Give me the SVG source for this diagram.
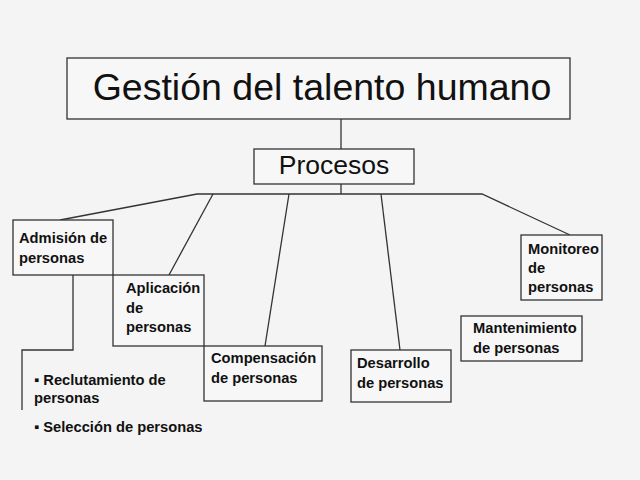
<svg xmlns="http://www.w3.org/2000/svg" width="640" height="480" viewBox="0 0 640 480">
<style>
.box{fill:#f7f7f7;stroke:#333;stroke-width:1.3}
.ln{fill:none;stroke:#333;stroke-width:1.3}
.t{font-family:"Liberation Sans",Arial,sans-serif;font-size:14.7px;font-weight:bold;fill:#111}
.big{font-family:"Liberation Sans",Arial,sans-serif;fill:#111}
</style>
<rect width="640" height="480" fill="#f4f4f4"/>
<g id="connectors">
<line class="ln" x1="341" y1="119" x2="341" y2="149"/>
<line class="ln" x1="341" y1="184" x2="341" y2="194"/>
<polyline class="ln" points="60,220 197,194 482,194 570,235"/>
<line class="ln" x1="213" y1="194" x2="169" y2="275"/>
<line class="ln" x1="289" y1="194" x2="265" y2="346"/>
<line class="ln" x1="381" y1="194" x2="400" y2="350"/>
<polyline class="ln" points="73,275 73,350 22,350 22,410"/>
</g>
<g id="title">
<rect class="box" x="67" y="58" width="503" height="61"/>
<text class="big" x="322" y="100" font-size="37.5" text-anchor="middle">Gestión del talento humano</text>
</g>
<g id="procesos">
<rect class="box" x="254" y="149" width="160" height="35"/>
<text class="big" x="334" y="174" font-size="26.5" text-anchor="middle">Procesos</text>
</g>
<g id="admision">
<rect class="box" x="13" y="220" width="100" height="55"/>
<text class="t" x="19" y="243">Admisión de</text>
<text class="t" x="19" y="263">personas</text>
</g>
<g id="aplicacion">
<rect class="box" x="113" y="275" width="91" height="71"/>
<text class="t" x="126" y="293">Aplicación</text>
<text class="t" x="126" y="313">de</text>
<text class="t" x="126" y="332">personas</text>
</g>
<g id="compensacion">
<rect class="box" x="204" y="346" width="118" height="55"/>
<text class="t" x="211" y="363">Compensación</text>
<text class="t" x="211" y="383">de personas</text>
</g>
<g id="desarrollo">
<rect class="box" x="351" y="350" width="100" height="52"/>
<text class="t" x="357" y="368">Desarrollo</text>
<text class="t" x="357" y="388">de personas</text>
</g>
<g id="mantenimiento">
<rect class="box" x="461" y="316" width="121" height="45"/>
<text class="t" x="473" y="333">Mantenimiento</text>
<text class="t" x="473" y="353">de personas</text>
</g>
<g id="monitoreo">
<rect class="box" x="521" y="235" width="81" height="65"/>
<text class="t" x="528" y="254">Monitoreo</text>
<text class="t" x="528" y="273">de</text>
<text class="t" x="528" y="292">personas</text>
</g>
<g id="admision-items">
<text class="t" x="34" y="385">▪ Reclutamiento de</text>
<text class="t" x="34" y="403">personas</text>
<text class="t" x="34" y="432">▪ Selección de personas</text>
</g>
</svg>
